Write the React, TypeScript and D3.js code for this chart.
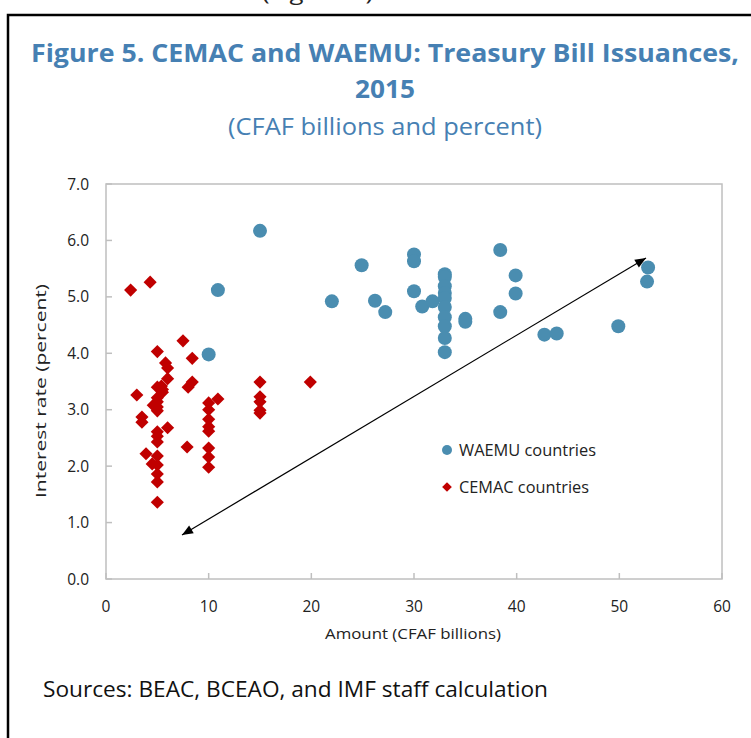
import React from "react";
import * as d3 from "d3";

// WAEMU issuances: [amount CFAF bn, rate %]
const waemu: [number, number][] = [
  [10, 3.98], [10.9, 5.12], [15, 6.17], [22, 4.92], [24.9, 5.56], [26.2, 4.93],
  [27.2, 4.73], [30, 5.75], [30, 5.63], [30, 5.1], [30.8, 4.83], [31.8, 4.92],
  [33, 5.4], [33, 5.35], [33, 5.19], [33, 5.07], [33, 4.98], [33, 4.82],
  [33, 4.64], [33, 4.48], [33, 4.27], [33, 4.02], [35, 4.61], [35, 4.56],
  [38.4, 5.83], [38.4, 4.73], [39.9, 5.38], [39.9, 5.06], [42.7, 4.33],
  [43.9, 4.35], [49.9, 4.48], [52.8, 5.52], [52.7, 5.27],
];

// CEMAC issuances
const cemac: [number, number][] = [
  [2.4, 5.12], [4.3, 5.26], [7.5, 4.22], [5.0, 4.03], [8.4, 3.91], [5.8, 3.83],
  [6.0, 3.74], [6.0, 3.55], [8.4, 3.49], [8.0, 3.4], [3.0, 3.26], [5.0, 3.4],
  [5.4, 3.42], [5.5, 3.31], [5.0, 3.21], [4.6, 3.08], [5.0, 3.05], [5.0, 2.98],
  [5.5, 3.36], [5.0, 3.14], [3.5, 2.87], [3.5, 2.78], [6.0, 2.68], [5.0, 2.61],
  [5.0, 2.53], [5.0, 2.43], [7.9, 2.34], [3.9, 2.22], [5.0, 2.18], [4.5, 2.04],
  [5.0, 2.02], [5.0, 1.86], [5.0, 1.72], [5.0, 1.36], [10, 3.12], [10, 3.0],
  [10, 2.83], [10, 2.7], [10, 2.62], [10, 2.32], [10, 2.16], [10, 1.98],
  [10.9, 3.19], [15, 3.49], [15, 3.23], [15, 3.14], [15, 2.99], [15, 2.94],
  [19.9, 3.49],
];

// double-headed trend arrow, in data units
const arrowPts: [number, number][] = [[7.4, 0.78], [52.6, 5.69]];

const xTicks = [0, 10, 20, 30, 40, 50, 60];
const yTicks = [0, 1, 2, 3, 4, 5, 6, 7];

const blue = "#4a8db0";
const red = "#c00000";
const titleCol = "#4680b3";
const axisCol = "#bfbfbf";
const font = "'Open Sans', 'Noto Sans', sans-serif";

export default function App() {
  const left = 106, right = 722, top = 184, bottom = 579;
  const x = d3.scaleLinear().domain([0, 60]).range([left, right]);
  const y = d3.scaleLinear().domain([0, 7]).range([bottom, top]);

  const diamond = d3.symbol().type(d3.symbolDiamond2).size(110);

  const [a, b] = arrowPts;
  const ax1 = x(a[0]), ay1 = y(a[1]), ax2 = x(b[0]), ay2 = y(b[1]);
  const ang = Math.atan2(ay2 - ay1, ax2 - ax1);
  const head = (px: number, py: number, dir: number) => {
    const L = 11, W = 4.5;
    const bx = px - Math.cos(dir) * L, by = py - Math.sin(dir) * L;
    const nx = -Math.sin(dir) * W, ny = Math.cos(dir) * W;
    return `M${px},${py}L${bx + nx},${by + ny}L${bx - nx},${by - ny}Z`;
  };

  return (
    <svg width={751} height={738} style={{ position: "absolute", left: 0, top: 0 }} fontFamily={font}>
      <rect width={751} height={738} fill="#fff" />
      {/* clipped text from the page above */}
      <text x={262} y={0} fontSize={20} fill="#222" textLength={118} lengthAdjust="spacingAndGlyphs">(Figure 4).</text>
      {/* outer box */}
      <path d="M8,738V15H751" fill="none" stroke="#000" strokeWidth={2.5} />

      <text x={385} y={62} textAnchor="middle" fontSize={25} fontWeight="bold" fill={titleCol}
        textLength={708} lengthAdjust="spacingAndGlyphs">Figure 5. CEMAC and WAEMU: Treasury Bill Issuances,</text>
      <text x={385} y={98} textAnchor="middle" fontSize={25} fontWeight="bold" fill={titleCol}
        textLength={60} lengthAdjust="spacingAndGlyphs">2015</text>
      <text x={385} y={135} textAnchor="middle" fontSize={24} fill={titleCol}
        textLength={314} lengthAdjust="spacingAndGlyphs">(CFAF billions and percent)</text>

      {/* plot frame */}
      <rect x={left} y={top} width={right - left} height={bottom - top} fill="none" stroke={axisCol} strokeWidth={1.5} />
      {yTicks.map(t => (
        <g key={"y" + t}>
          <line x1={left} x2={left + 6} y1={y(t)} y2={y(t)} stroke={axisCol} strokeWidth={1.5} />
          <text x={89} y={y(t) + 5.5} textAnchor="end" fontSize={15.5} fill="#222">{t.toFixed(1)}</text>
        </g>
      ))}
      {xTicks.map(t => (
        <g key={"x" + t}>
          <line x1={x(t)} x2={x(t)} y1={bottom} y2={bottom - 6} stroke={axisCol} strokeWidth={1.5} />
          <text x={x(t)} y={612} textAnchor="middle" fontSize={15.5} fill="#222">{t}</text>
        </g>
      ))}
      <text x={413} y={639} textAnchor="middle" fontSize={15} fill="#222"
        textLength={176} lengthAdjust="spacingAndGlyphs">Amount (CFAF billions)</text>
      <text transform="translate(46,391) rotate(-90)" textAnchor="middle" fontSize={15} fill="#222"
        textLength={214} lengthAdjust="spacingAndGlyphs">
        Interest rate (percent)
      </text>

      {waemu.map((d, i) => (
        <circle key={"w" + i} cx={x(d[0])} cy={y(d[1])} r={7} fill={blue} />
      ))}
      {cemac.map((d, i) => (
        <path key={"c" + i} d={diamond()!} transform={`translate(${x(d[0])},${y(d[1])})`} fill={red} />
      ))}

      {/* arrow */}
      <line x1={ax1} y1={ay1} x2={ax2} y2={ay2} stroke="#000" strokeWidth={1.2} />
      <path d={head(ax2, ay2, ang)} fill="#000" />
      <path d={head(ax1, ay1, ang + Math.PI)} fill="#000" />

      {/* legend */}
      <circle cx={447} cy={450} r={5} fill={blue} />
      <text x={459} y={456} fontSize={16} fill="#222" textLength={137} lengthAdjust="spacingAndGlyphs">WAEMU countries</text>
      <path d={d3.symbol().type(d3.symbolDiamond2).size(60)()!} transform="translate(447,487)" fill={red} />
      <text x={459} y={493} fontSize={16} fill="#222" textLength={130} lengthAdjust="spacingAndGlyphs">CEMAC countries</text>

      <text x={43} y={697} fontSize={21} fill="#111" textLength={505} lengthAdjust="spacingAndGlyphs">
        Sources: BEAC, BCEAO, and IMF staff calculation
      </text>
    </svg>
  );
}
